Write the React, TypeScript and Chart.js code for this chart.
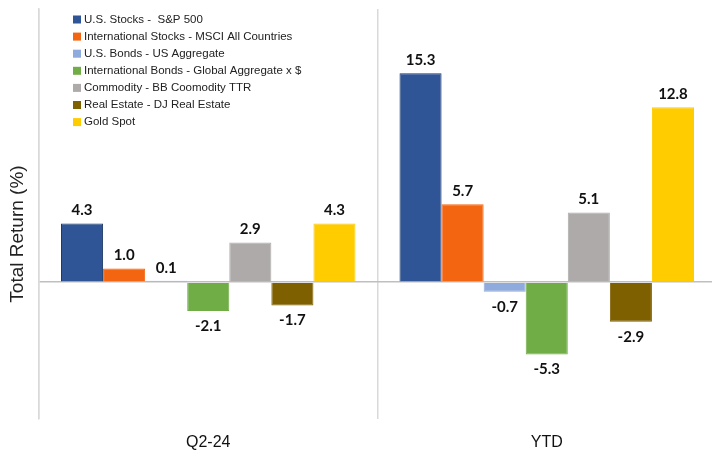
import React, { useEffect, useRef } from "react";
import { Chart, registerables } from "chart.js";

Chart.register(...registerables);

const categories = ["Q2-24", "YTD"];
const seriesLabels = [
  "U.S. Stocks -  S&P 500",
  "International Stocks - MSCI All Countries",
  "U.S. Bonds - US Aggregate",
  "International Bonds - Global Aggregate x $",
  "Commodity - BB Coomodity TTR",
  "Real Estate - DJ Real Estate",
  "Gold Spot",
];
const usStocks = [4.3, 15.3];
const intlStocks = [1.0, 5.7];
const usBonds = [0.1, -0.7];
const intlBonds = [-2.1, -5.3];
const commodity = [2.9, 5.1];
const realEstate = [-1.7, -2.9];
const goldSpot = [4.3, 12.8];
const seriesValues = [usStocks, intlStocks, usBonds, intlBonds, commodity, realEstate, goldSpot];
const seriesColors = ["#2F5597", "#F46511", "#8FAADC", "#70AD47", "#AEAAAA", "#7F6000", "#FFCC00"];
const seriesBorders = ["#1F3864", "#F46511", "#8FAADC", "#70AD47", "#AEAAAA", "#7F6000", "#FFCC00"];
const yTitle = "Total Return (%)";

const labelPlugin = {
  id: "valueLabels",
  afterDatasetsDraw(chart: any) {
    const ctx = chart.ctx;
    ctx.save();
    ctx.font = "bold 15px Lato, 'Liberation Sans', sans-serif";
    ctx.fillStyle = "#111";
    ctx.textAlign = "center";
    ctx.textBaseline = "middle";
    chart.data.datasets.forEach((ds: any, i: number) => {
      const meta = chart.getDatasetMeta(i);
      meta.data.forEach((bar: any, j: number) => {
        const v = ds.data[j];
        const y = v >= 0 ? bar.y - 13 : bar.y + 15;
        ctx.fillText(v.toFixed(1), bar.x, y);
      });
    });
    ctx.restore();
  },
};

const legendPlugin = {
  id: "innerLegend",
  afterDraw(chart: any) {
    const ctx = chart.ctx;
    ctx.save();
    ctx.font = "11.5px 'Liberation Sans', Arial, sans-serif";
    ctx.textBaseline = "middle";
    ctx.textAlign = "left";
    chart.data.datasets.forEach((ds: any, i: number) => {
      const y = 19.5 + i * 17.1;
      ctx.fillStyle = ds.backgroundColor;
      ctx.fillRect(73, y - 4, 8, 8);
      ctx.fillStyle = "#222";
      ctx.fillText(ds.label, 84, y);
    });
    // y title
    ctx.translate(18, 234);
    ctx.rotate(-Math.PI / 2);
    ctx.textAlign = "center";
    ctx.font = "19px 'Liberation Sans', Arial, sans-serif";
    ctx.fillStyle = "#222";
    ctx.fillText(yTitle, 0, 0);
    ctx.restore();
  },
};

export default function App() {
  const ref = useRef<HTMLCanvasElement>(null);
  useEffect(() => {
    if (!ref.current) return;
    const chart = new Chart(ref.current, {
      type: "bar",
      data: {
        labels: categories,
        datasets: seriesLabels.map((label, i) => ({
          label,
          data: seriesValues[i],
          backgroundColor: seriesColors[i],
          borderColor: seriesBorders[i],
          borderWidth: 1,
          categoryPercentage: 0.87,
          barPercentage: 1,
        })),
      },
      options: {
        animation: false,
        responsive: true,
        maintainAspectRatio: false,
        layout: { padding: { left: 39, top: 9, right: 0, bottom: -14 } },
        plugins: { legend: { display: false }, tooltip: { enabled: false } },
        scales: {
          x: {
            grid: { offset: true, color: "#d9d9d9", drawTicks: false, lineWidth: 1.5 },
            border: { display: false },
            ticks: {
              padding: 14,
              color: "#111",
              font: { size: 16, family: "'Liberation Sans', Arial, sans-serif" },
            },
          },
          y: {
            min: -10,
            max: 20,
            ticks: { display: false, stepSize: 5 },
            grid: {
              drawTicks: false,
              color: (c: any) => (c.tick && c.tick.value === 0 ? "#bfbfbf" : "rgba(0,0,0,0)"),
              lineWidth: 1.5,
            },
            border: { display: true, color: "#d9d9d9", width: 1.5 },
          },
        },
      },
      plugins: [labelPlugin, legendPlugin],
    });
    return () => chart.destroy();
  }, []);
  return (
    <div style={{ position: "fixed", left: 0, top: 0, width: 712, height: 452, overflow: "hidden", background: "#fff" }}>
      <div style={{ position: "relative", width: 716, height: 452 }}>
        <canvas ref={ref} />
      </div>
    </div>
  );
}
